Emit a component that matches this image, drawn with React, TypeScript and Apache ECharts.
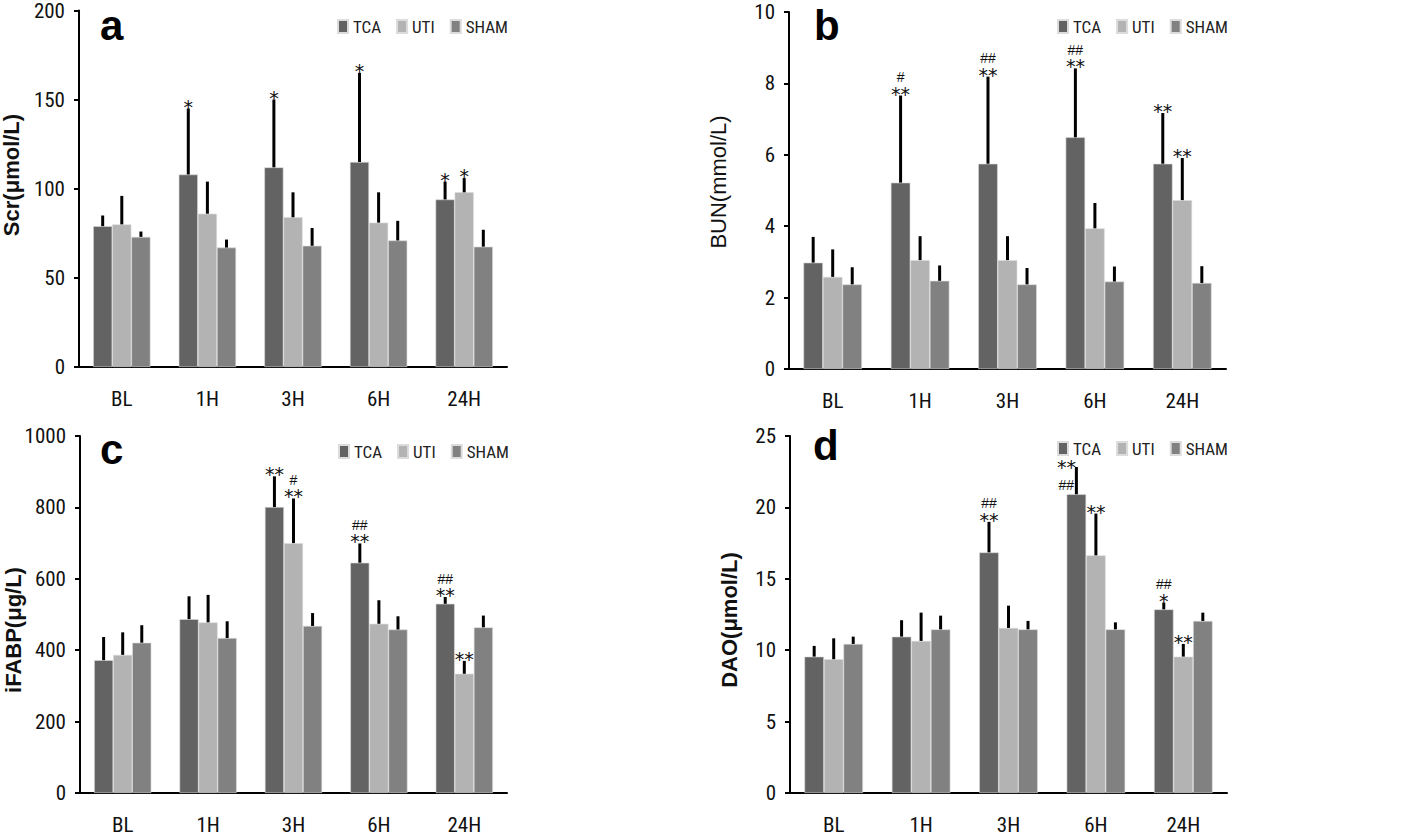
import React, { useEffect, useRef } from "react";
import * as echarts from "echarts";

const categories = ["BL", "1H", "3H", "6H", "24H"];
const groups = ["TCA", "UTI", "SHAM"];
const groupColors = ["#636363", "#b3b3b3", "#818181"];

// Panel a: Scr (μmol/L)
const scrTCA = [79, 108, 112, 115, 94];
const scrTCASd = [6, 37, 38, 50, 10];
const scrUTI = [80, 86, 84, 81, 98];
const scrUTISd = [16, 18, 14, 17, 8];
const scrSHAM = [73, 67, 68, 71, 67.5];
const scrSHAMSd = [3, 4.5, 10, 11, 9.5];
const scrTCAMarks = ["", "*", "*", "*", "*"];
const scrUTIMarks = ["", "", "", "", "*"];
const scrSHAMMarks = ["", "", "", "", ""];

// Panel b: BUN (mmol/L)
const bunTCA = [2.98, 5.22, 5.75, 6.49, 5.75];
const bunTCASd = [0.72, 2.44, 2.44, 1.93, 1.42];
const bunUTI = [2.58, 3.05, 3.05, 3.94, 4.73];
const bunUTISd = [0.77, 0.67, 0.67, 0.71, 1.18];
const bunSHAM = [2.37, 2.47, 2.37, 2.45, 2.41];
const bunSHAMSd = [0.48, 0.43, 0.46, 0.42, 0.47];
const bunTCAMarks = ["", "#\n**", "##\n**", "##\n**", "**"];
const bunUTIMarks = ["", "", "", "", "**"];
const bunSHAMMarks = ["", "", "", "", ""];

// Panel c: iFABP (μg/L)
const fabpTCA = [372, 487, 801, 645, 530];
const fabpTCASd = [65, 64, 86, 54, 19];
const fabpUTI = [387, 478, 700, 474, 334];
const fabpUTISd = [63, 77, 125, 66, 36];
const fabpSHAM = [421, 434, 468, 458, 464];
const fabpSHAMSd = [49, 47, 36, 37, 33];
const fabpTCAMarks = ["", "", "**", "##\n**", "##\n**"];
const fabpUTIMarks = ["", "", "#\n**", "", "**"];
const fabpSHAMMarks = ["", "", "", "", ""];

// Panel d: DAO (μmol/L)
const daoTCA = [9.55, 10.95, 16.85, 20.92, 12.86];
const daoTCASd = [0.75, 1.15, 2.14, 1.91, 0.47];
const daoUTI = [9.37, 10.65, 11.56, 16.64, 9.55];
const daoUTISd = [1.46, 1.98, 1.56, 2.93, 0.89];
const daoSHAM = [10.44, 11.46, 11.46, 11.46, 12.05];
const daoSHAMSd = [0.51, 0.96, 0.59, 0.49, 0.58];
const daoTCAMarks = ["", "", "##\n**", "**\n##", "##\n*"];
const daoUTIMarks = ["", "", "", "**", "**"];
const daoSHAMMarks = ["", "", "", "", ""];

const NARROW = "'Roboto Condensed', 'Liberation Sans Narrow', 'Arial Narrow', Arial, sans-serif";
const SANS = "'Liberation Sans', Arial, Helvetica, sans-serif";
const STARFONT = "'DejaVu Sans', 'Liberation Sans', sans-serif";

type Panel = {
  letter: string;
  title: string;
  titleBold: boolean;
  max: number;
  interval: number;
  means: number[][];
  sds: number[][];
  marks: string[][];
  grid: { left: number; top: number; width: number; height: number };
  legend: { left: number; top: number };
  letterPos: [number, number];
  titlePos: [number, number];
};

const panels: Panel[] = [
  {
    letter: "a",
    title: "Scr(μmol/L)",
    titleBold: true,
    max: 200,
    interval: 50,
    means: [scrTCA, scrUTI, scrSHAM],
    sds: [scrTCASd, scrUTISd, scrSHAMSd],
    marks: [scrTCAMarks, scrUTIMarks, scrSHAMMarks],
    grid: { left: 79, top: 10, width: 428, height: 357 },
    legend: { left: 337, top: 18 },
    letterPos: [100, 4],
    titlePos: [11, 175],
  },
  {
    letter: "b",
    title: "BUN(mmol/L)",
    titleBold: false,
    max: 10,
    interval: 2,
    means: [bunTCA, bunUTI, bunSHAM],
    sds: [bunTCASd, bunUTISd, bunSHAMSd],
    marks: [bunTCAMarks, bunUTIMarks, bunSHAMMarks],
    grid: { left: 789, top: 12, width: 437, height: 357 },
    legend: { left: 1057, top: 18 },
    letterPos: [814, 4],
    titlePos: [718, 182],
  },
  {
    letter: "c",
    title: "iFABP(μg/L)",
    titleBold: true,
    max: 1000,
    interval: 200,
    means: [fabpTCA, fabpUTI, fabpSHAM],
    sds: [fabpTCASd, fabpUTISd, fabpSHAMSd],
    marks: [fabpTCAMarks, fabpUTIMarks, fabpSHAMMarks],
    grid: { left: 80, top: 436, width: 427, height: 357 },
    legend: { left: 338, top: 443 },
    letterPos: [100, 428],
    titlePos: [13, 630],
  },
  {
    letter: "d",
    title: "DAO(μmol/L)",
    titleBold: true,
    max: 25,
    interval: 5,
    means: [daoTCA, daoUTI, daoSHAM],
    sds: [daoTCASd, daoUTISd, daoSHAMSd],
    marks: [daoTCAMarks, daoUTIMarks, daoSHAMMarks],
    grid: { left: 790, top: 436, width: 437, height: 357 },
    legend: { left: 1057, top: 440 },
    letterPos: [813, 424],
    titlePos: [729, 620],
  },
];

function buildOption() {
  const grid: any[] = [];
  const xAxis: any[] = [];
  const yAxis: any[] = [];
  const series: any[] = [];
  const legend: any[] = [];
  const graphic: any[] = [];

  panels.forEach((p, k) => {
    grid.push({ ...p.grid, containLabel: false });
    xAxis.push({
      type: "category",
      gridIndex: k,
      data: categories,
      axisLine: { lineStyle: { color: "#000", width: 2 } },
      axisTick: { length: 8, lineStyle: { color: "#000", width: 2 } },
      axisLabel: { fontSize: 21, fontFamily: NARROW, color: "#111", margin: 21 },
      splitLine: { show: false },
    });
    yAxis.push({
      type: "value",
      gridIndex: k,
      min: 0,
      max: p.max,
      interval: p.interval,
      axisLine: { show: true, lineStyle: { color: "#000", width: 2 } },
      axisTick: { show: true, length: 5, lineStyle: { color: "#000", width: 2 } },
      axisLabel: {
        fontSize: 21,
        lineHeight: 16,
        fontFamily: NARROW,
        color: "#111",
        margin: 14,
        formatter: (v: number) => String(v),
      },
      splitLine: { show: false },
    });
    groups.forEach((g, s) => {
      series.push({
        type: "bar",
        name: g,
        xAxisIndex: k,
        yAxisIndex: k,
        data: p.means[s],
        barGap: "0%",
        barCategoryGap: "33%",
        itemStyle: { color: groupColors[s], borderColor: "#dcdcdc", borderWidth: 0.6 },
        emphasis: { disabled: true },
      });
    });

    const errData: number[][] = [];
    const markFlat: string[] = [];
    groups.forEach((_g, s) => {
      categories.forEach((_c, i) => {
        const m = p.means[s][i];
        errData.push([i, m, m + p.sds[s][i], s]);
        markFlat.push(p.marks[s][i]);
      });
    });
    const yMax = p.max;
    series.push({
      type: "custom",
      xAxisIndex: k,
      yAxisIndex: k,
      clip: false,
      silent: true,
      z: 5,
      encode: { x: 0, y: [1, 2] },
      data: errData,
      renderItem: (params: any, api: any) => {
        const cat = api.value(0);
        const mean = api.value(1);
        const top = api.value(2);
        const s = api.value(3);
        const band = api.size([1, 0])[0];
        const barW = (band * 0.67) / 3;
        const p0 = api.coord([cat, mean]);
        const p1 = api.coord([cat, top]);
        const x = p0[0] + (s - 1) * barW;
        const children: any[] = [
          {
            type: "line",
            shape: { x1: x, y1: p0[1], x2: x, y2: p1[1] },
            style: { stroke: "#000", lineWidth: 3 },
          },
        ];
        const mark = markFlat[params.dataIndex];
        if (mark) {
          const lines = mark.split("\n").reverse();
          const gridTop = api.coord([cat, yMax])[1];
          const step = 13;
          const blockH = lines.length * step + 6;
          const side = p1[1] - blockH < gridTop + 4;
          const cx = side ? x - 10 : x;
          let cursor = p0[1] - 1; // used when stacked beside the error line
          lines.forEach((ln: string, i: number) => {
            const star = ln.indexOf("*") >= 0;
            let y: number;
            if (side) {
              const h = star ? 21 : 16;
              y = cursor - h / 2;
              cursor -= h;
            } else {
              const vc = p1[1] - 6 - i * step;
              y = vc + (star ? 4 : 0.5);
            }
            children.push({
              type: "text",
              style: {
                text: ln,
                x: cx,
                y,
                textAlign: "center",
                textVerticalAlign: "middle",
                fontSize: star ? 19 : 14,
                fontFamily: star ? STARFONT : SANS,
                fill: "#111",
              },
            });
          });
        }
        return { type: "group", children };
      },
    });

    legend.push({
      data: groups,
      left: p.legend.left,
      top: p.legend.top,
      padding: 0,
      icon: "rect",
      itemWidth: 10,
      itemHeight: 13,
      itemGap: 15,
      selectedMode: false,
      textStyle: { fontSize: 17, fontFamily: NARROW, color: "#222" },
    });

    graphic.push({
      type: "text",
      left: p.letterPos[0],
      top: p.letterPos[1],
      style: {
        text: p.letter,
        fontSize: 42,
        fontWeight: "bold",
        fontFamily: SANS,
        fill: "#000",
      },
    });
    graphic.push({
      type: "text",
      x: p.titlePos[0],
      y: p.titlePos[1],
      rotation: Math.PI / 2,
      style: {
        text: p.title,
        fontSize: 22,
        fontWeight: p.titleBold ? "bold" : "normal",
        fontFamily: SANS,
        fill: "#111",
        textAlign: "center",
        textVerticalAlign: "middle",
      },
    });
  });

  return {
    animation: false,
    backgroundColor: "#ffffff",
    grid,
    xAxis,
    yAxis,
    legend,
    series,
    graphic,
  };
}

export default function App() {
  const ref = useRef<HTMLDivElement>(null);
  useEffect(() => {
    document.body.style.margin = "0";
    if (!ref.current) return;
    const chart = echarts.init(ref.current, undefined, { renderer: "svg" });
    chart.setOption(buildOption() as any);
    return () => {
      chart.dispose();
    };
  }, []);
  return <div ref={ref} style={{ width: 1418, height: 836, background: "#fff" }} />;
}
